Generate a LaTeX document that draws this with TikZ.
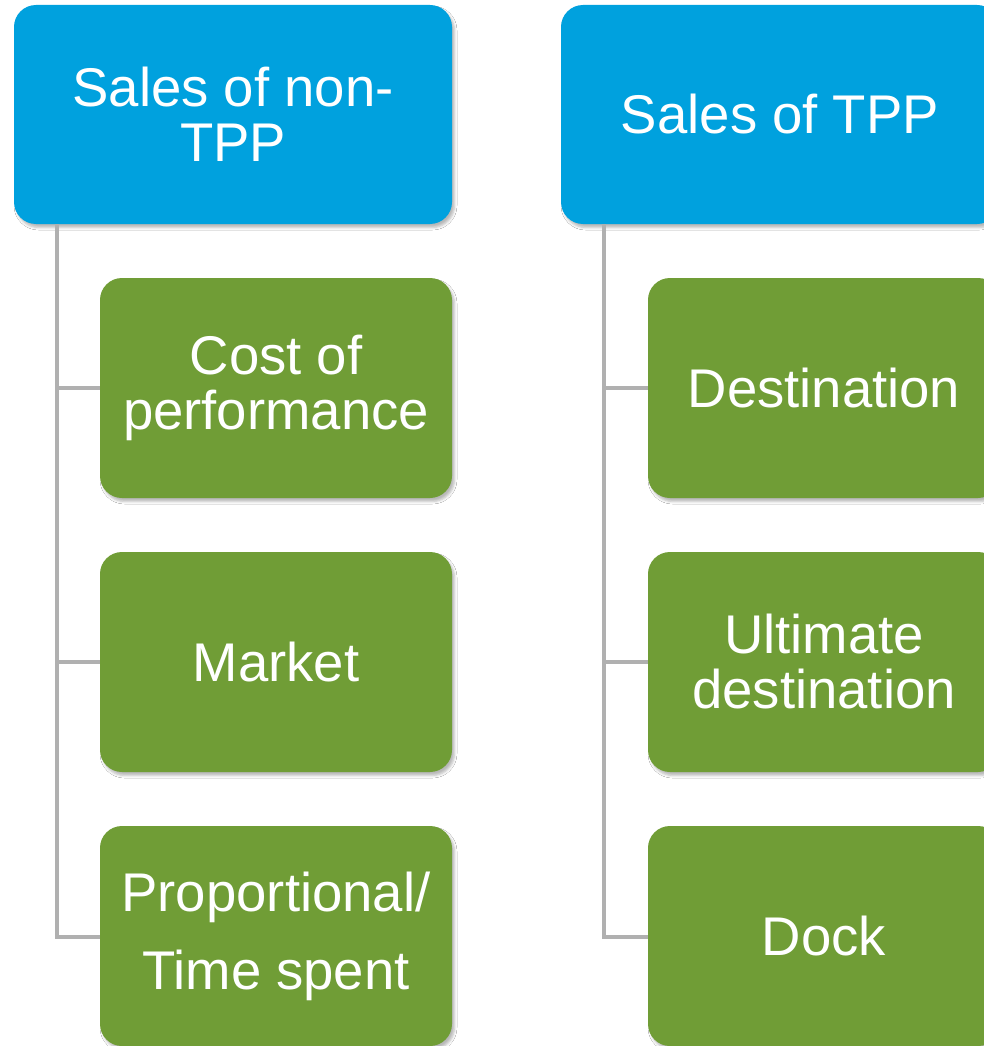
\documentclass[tikz,border=0pt]{standalone}
\usepackage{fontspec}
\setmainfont{Liberation Sans}
\usetikzlibrary{shadows.blur}
\definecolor{headblue}{RGB}{0,161,222}
\definecolor{leafgreen}{RGB}{112,157,54}
\definecolor{treegray}{RGB}{176,176,176}
\tikzset{
  box/.style={rectangle, rounded corners=22pt, inner sep=0pt, align=center,
    text=white, font=\fontsize{54.5}{55}\selectfont,
    blur shadow={shadow xshift=2.5pt, shadow yshift=-3.5pt, shadow blur radius=2.5pt,
      shadow blur extra rounding=2pt, shadow opacity=28}},
  headbox/.style={box, fill=headblue, minimum width=438pt, minimum height=219pt},
  leafbox/.style={box, fill=leafgreen, minimum width=352pt, minimum height=220pt},
  branch/.style={draw=treegray, line width=3.2pt}
}
\begin{document}
\begin{tikzpicture}[x=1pt,y=-1pt]
\useasboundingbox (0,0) rectangle (984,1046);
\clip (0,0) rectangle (984,1046);
\fill[white] (0,0) rectangle (984,1046);

% trunk positions of the two trees
\coordinate (tl) at (57,0);
\coordinate (tr) at (604,0);

% header boxes
\node[headbox] (lh) at (233,114.5) {Sales of non-\\TPP};
\node[headbox] (rh) at (780,114.5) {Sales of TPP};

% connectors (drawn under the leaf boxes)
\draw[branch] (lh.south -| tl) -- (tl |- 0,937) -- (100,937) coordinate (le3);
\draw[branch] (tl |- 0,388) -- (100,388) coordinate (le1);
\draw[branch] (tl |- 0,662) -- (100,662) coordinate (le2);
\draw[branch] (rh.south -| tr) -- (tr |- 0,937) -- (648,937) coordinate (re3);
\draw[branch] (tr |- 0,388) -- (648,388) coordinate (re1);
\draw[branch] (tr |- 0,662) -- (648,662) coordinate (re2);

% leaf boxes, left tree
\node[leafbox] (l1) at (276,388) {Cost of\\performance};
\node[leafbox] (l2) at (276,662) {Market};
\node[leafbox] (l3) at (276,936) {Proportional/\\[23pt]Time spent};

% leaf boxes, right tree
\node[leafbox] (r1) at (824,388) {Destination};
\node[leafbox] (r2) at (824,662) {Ultimate\\destination};
\node[leafbox] (r3) at (824,936) {Dock};
\end{tikzpicture}
\end{document}
